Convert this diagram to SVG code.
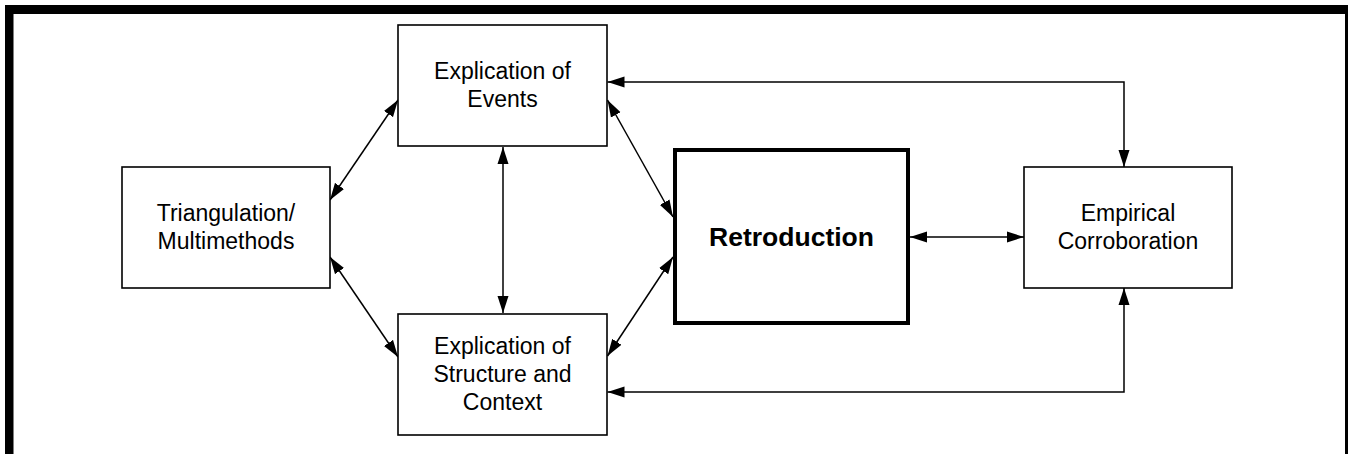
<svg xmlns="http://www.w3.org/2000/svg" width="1348" height="454" viewBox="0 0 1348 454">
<style>
.box{fill:#fff;stroke:#000;stroke-width:1.6}
.bold{fill:#fff;stroke:#000;stroke-width:4}
.t{font-family:"Liberation Sans",Arial,sans-serif;font-size:23px;text-anchor:middle;fill:#000}
.tb{font-family:"Liberation Sans",Arial,sans-serif;font-size:26.5px;font-weight:bold;text-anchor:middle;fill:#000}
.c{fill:none;stroke:#000;stroke-width:1.5;marker-start:url(#ah);marker-end:url(#ah)}
</style>
<defs>
<marker id="ah" markerUnits="userSpaceOnUse" markerWidth="18" markerHeight="12" refX="17" refY="6" orient="auto-start-reverse">
<path d="M0,0.5 L17,6 L0,11.5 Z" fill="#000"/>
</marker>
</defs>
<rect x="0" y="0" width="1348" height="454" fill="#fff"/>
<g id="frame">
<rect x="5" y="5" width="1343" height="9" fill="#000"/>
<rect x="5" y="5" width="8.5" height="449" fill="#000"/>
<rect x="1345" y="5" width="3" height="449" fill="#000"/>
</g>
<g id="connectors">
<line class="c" x1="330" y1="200" x2="398" y2="100"/>
<line class="c" x1="330" y1="257" x2="398" y2="357"/>
<line class="c" x1="503" y1="147" x2="503" y2="313"/>
<line class="c" x1="607.5" y1="100" x2="673" y2="217"/>
<line class="c" x1="607.5" y1="356" x2="673" y2="257"/>
<line class="c" x1="910" y1="237" x2="1024" y2="237"/>
<path class="c" d="M607.5,82 H1124 V167"/>
<path class="c" d="M607.5,392 H1124 V288"/>
</g>
<g id="events">
<rect class="box" x="398" y="25" width="209" height="121"/>
<text class="t" x="502.5" y="79">Explication of</text>
<text class="t" x="502.5" y="107">Events</text>
</g>
<g id="triangulation">
<rect class="box" x="122" y="167" width="208" height="121"/>
<text class="t" x="226" y="221">Triangulation/</text>
<text class="t" x="226" y="248.5">Multimethods</text>
</g>
<g id="structure">
<rect class="box" x="398" y="314" width="209" height="121"/>
<text class="t" x="502.5" y="354">Explication of</text>
<text class="t" x="502.5" y="382">Structure and</text>
<text class="t" x="502.5" y="410">Context</text>
</g>
<g id="retroduction">
<rect class="bold" x="675" y="150" width="233" height="173"/>
<text class="tb" x="791.5" y="245.5">Retroduction</text>
</g>
<g id="empirical">
<rect class="box" x="1024" y="167" width="208" height="121"/>
<text class="t" x="1128" y="220.5">Empirical</text>
<text class="t" x="1128" y="248.5">Corroboration</text>
</g>
</svg>
